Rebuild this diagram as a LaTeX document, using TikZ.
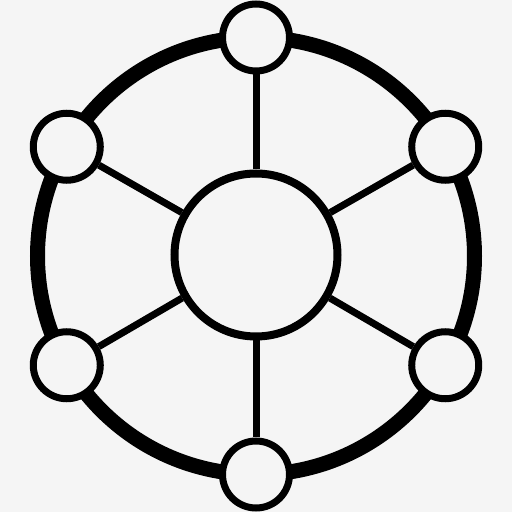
\documentclass[tikz,border=0pt]{standalone}
\definecolor{bg}{RGB}{245,245,245}
\begin{document}
\begin{tikzpicture}[x=1pt,y=1pt,
    dot/.style={circle,draw,fill=bg,line width=7pt,minimum size=67pt,inner sep=0pt},
    hub/.style={circle,draw,fill=bg,line width=8pt,minimum size=163pt,inner sep=0pt},
    spoke/.style={line width=7pt}]
                \fill[bg] (0,0) rectangle (512,512);
                \path (256,256) coordinate (O);
                \draw[line width=15pt] (O) circle (218.5pt);
                \path (256,257) node[hub] (H) {};
                \path (O) ++(90:218.5) node[dot] (A) {};
                \path (O) ++(30:218.5) node[dot] (B) {};
                \path (O) ++(-30:218.5) node[dot] (C) {};
                \path (O) ++(-90:218.5) node[dot] (D) {};
                \path (O) ++(-150:218.5) node[dot] (E) {};
                \path (O) ++(150:218.5) node[dot] (F) {};
                \foreach \n in {A,B,C,D,E,F}
                  \draw[spoke] (H) -- (\n);
              \end{tikzpicture}
\end{document}
